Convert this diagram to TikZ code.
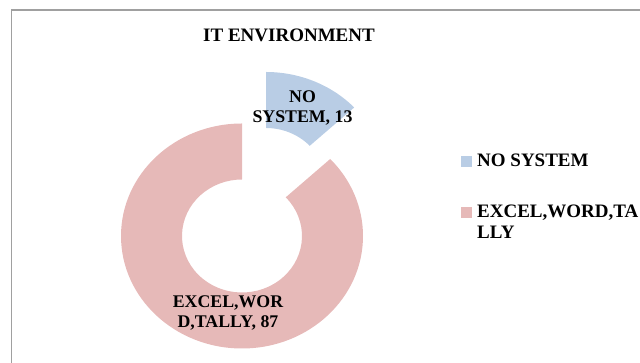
\documentclass[tikz,border=0pt]{standalone}
\usepackage{fontspec}
\setmainfont{Liberation Serif}
\definecolor{bluefill}{RGB}{185,205,229}
\definecolor{redfill}{RGB}{230,185,184}
\definecolor{framegray}{RGB}{160,160,160}
\tikzset{
  lbl/.style={font=\bfseries\fontsize{17.8}{20}\selectfont, align=center, inner sep=0pt, anchor=base},
  legtxt/.style={font=\bfseries\fontsize{19}{21}\selectfont, align=left, inner sep=0pt, anchor=base west},
  ttl/.style={font=\bfseries\fontsize{19}{21}\selectfont, inner sep=0pt, anchor=base},
  frameline/.style={draw=framegray, line width=1.5pt}
}
\begin{document}
\begin{tikzpicture}[x=1pt,y=1pt]
\useasboundingbox (0,0) rectangle (640,363);
% frame
\coordinate (fbl) at (11.5,0);
\coordinate (ftl) at (11.5,353);
\coordinate (ftr) at (640,353);
\draw[frameline] (fbl) -- (ftl) -- (ftr);
% title
\node[ttl] (title) at (289,321) {IT ENVIRONMENT};
% red slice
\coordinate (rc) at (242,127);
\fill[redfill] ([shift={(90:121 and 112.5)}]rc) arc[start angle=90, end angle=403.2, x radius=121pt, y radius=112.5pt]
  -- ([shift={(43.2:60 and 56.5)}]rc) arc[start angle=403.2, end angle=90, x radius=60pt, y radius=56.5pt] -- cycle;
% blue slice (exploded)
\coordinate (bc) at (266,178.5);
\fill[bluefill] ([shift={(43.2:121 and 112.5)}]bc) arc[start angle=43.2, end angle=90, x radius=121pt, y radius=112.5pt]
  -- ([shift={(90:60 and 56.5)}]bc) arc[start angle=90, end angle=43.2, x radius=60pt, y radius=56.5pt] -- cycle;
% data labels
\node[lbl] (nolbl) at (302.5,240) {NO\\SYSTEM, 13};
\node[lbl] (exlbl) at (228,35) {EXCEL,WOR\\D,TALLY, 87};
% legend
\fill[bluefill] (461,196) rectangle (472,207);
\node[legtxt] (leg1) at (477,196) {NO SYSTEM};
\fill[redfill] (461,145) rectangle (472,156);
\node[legtxt] (leg2) at (477,124) {EXCEL,WORD,TA\\LLY};
\end{tikzpicture}
\end{document}
